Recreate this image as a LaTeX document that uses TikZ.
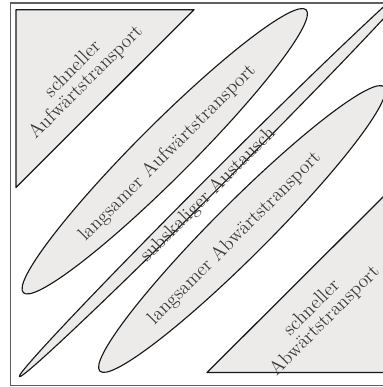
\documentclass[tikz,border=0pt]{standalone}
\definecolor{zonegray}{RGB}{236,235,234}
\definecolor{framegray}{RGB}{95,95,95}
\definecolor{textgray}{RGB}{60,60,60}
\begin{document}
\begin{tikzpicture}[x=0.75pt,y=-0.75pt,
  zone/.style={fill=zonegray, draw=black!90, line width=0.85pt, line join=round},
  zonetext/.style={text=textgray, rotate=45, align=center, inner sep=0pt,
    font=\fontsize{14.5}{13.8}\selectfont}]
  \useasboundingbox (0,0) rectangle (383,387);
  \clip (0,0) rectangle (383,387);

  % outer frame
  \draw[framegray, line width=1pt] (10.7,3) rectangle (398,385.7);

  % fast transport corners
  \draw[zone, line width=0.95pt] (16,9.7) -- (194,9.7) -- (16,187.5) -- cycle;
  \draw[zone, line width=0.95pt] (207,372.5) -- (386,372.5) -- (386,194) -- cycle;

  % slow transport and sub-scale exchange bands
  \draw[zone, rotate around={45:(164.75,151.25)}]
    (164.75,151.25) ellipse [x radius=200, y radius=27];
  \draw[zone, rotate around={45:(218,178)}]
    (218,178) ellipse [x radius=281, y radius=7.5];
  \draw[zone, rotate around={45:(242,229)}]
    (242,229) ellipse [x radius=201, y radius=27];

  % labels
  \node[zonetext] (fastup) at (79.5,76) {schneller\\Aufwärtstransport};
  \node[zonetext] (fastdown) at (318.5,314.5) {schneller\\Abwärtstransport};
  \node[zonetext] (slowup) at (167.5,153) {langsamer Aufwärtstransport};
  \node[zonetext] (slowdown) at (234.5,238.5) {langsamer Abwärtstransport};
  \node[zonetext] (subscale) at (208,195) {subskaliger Austausch};
\end{tikzpicture}
\end{document}
